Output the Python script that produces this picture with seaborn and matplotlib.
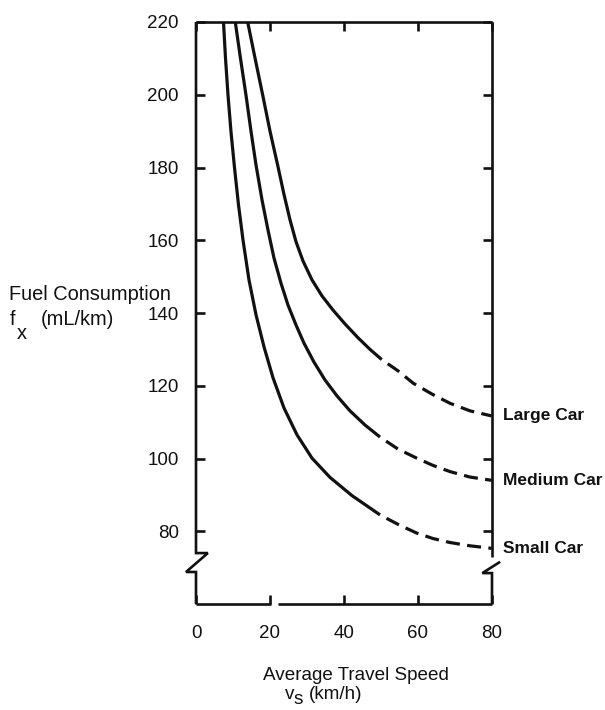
import matplotlib
matplotlib.use("Agg")
import matplotlib.pyplot as plt
import seaborn as sns

# ---------------- data ----------------
speed_small = [7.43, 7.97, 8.65, 9.46, 10.41, 11.49, 12.70, 14.32, 16.22, 18.38,
               20.81, 23.78, 27.30, 31.35, 36.22, 42.16, 49.73]
fuel_small = [220.0, 210.1, 199.9, 189.8, 179.9, 169.7, 160.1, 149.1, 139.5, 130.7,
              122.2, 113.9, 106.5, 100.1, 94.8, 89.8, 84.5]
speed_small_dash = [49.73, 54.59, 59.65, 64.05, 68.65, 74.05, 79.92]
fuel_small_dash = [84.5, 81.9, 79.5, 78.0, 76.9, 76.0, 75.3]

speed_medium = [10.62, 11.89, 13.51, 14.86, 16.22, 17.84, 19.46, 21.08, 22.97, 24.86,
                27.03, 29.19, 31.89, 34.86, 38.11, 41.62, 45.68, 49.73]
fuel_medium = [220.0, 210.9, 199.9, 190.0, 180.7, 171.1, 162.8, 155.1, 148.2, 142.2,
               136.7, 131.7, 126.5, 121.6, 117.2, 113.1, 109.2, 105.9]
speed_medium_dash = [49.73, 54.59, 59.65, 64.05, 68.65, 74.05, 79.92]
fuel_medium_dash = [105.9, 102.6, 100.1, 98.1, 96.4, 94.9, 94.0]

speed_large = [13.97, 15.95, 18.03, 20.0, 22.08, 23.78, 25.41, 27.03, 28.92, 31.35,
               34.05, 37.03, 40.27, 43.78, 47.03, 50.19]
fuel_large = [220.0, 210.1, 199.9, 190.0, 180.6, 172.6, 165.6, 159.6, 154.3, 149.1,
              144.7, 140.8, 137.0, 133.2, 130.0, 127.2]
speed_large_dash = [50.19, 54.6, 58.7, 63.8, 68.6, 74.05, 79.9]
fuel_large_dash = [127.2, 124.1, 120.7, 117.7, 115.2, 113.1, 111.7]

car_labels = ["Large Car", "Medium Car", "Small Car"]
x_ticks = [0, 20, 40, 60, 80]
y_ticks = [80, 100, 120, 140, 160, 180, 200, 220]

# ---------------- style ----------------
sns.set_theme(style="white")
plt.rcParams["font.family"] = ["Liberation Sans", "DejaVu Sans"]
INK = "#111111"

W, H = 605, 710
fig = plt.figure(figsize=(W / 100, H / 100), dpi=100)
ax = fig.add_axes([196 / W, 1 - 604 / H, (492 - 196) / W, (604 - 22) / H])
ax.set_xlim(0, 80)
ax.set_ylim(60, 220)
for s in ax.spines.values():
    s.set_visible(False)

LW = 2.3
solid_sets = [(speed_large, fuel_large), (speed_medium, fuel_medium), (speed_small, fuel_small)]
dash_sets = [(speed_large_dash, fuel_large_dash), (speed_medium_dash, fuel_medium_dash),
             (speed_small_dash, fuel_small_dash)]
for (xs, ys) in solid_sets:
    sns.lineplot(x=xs, y=ys, ax=ax, color=INK, lw=LW, estimator=None, sort=False,
                 solid_capstyle="butt", solid_joinstyle="round")
for (xs, ys) in dash_sets:
    sns.lineplot(x=xs, y=ys, ax=ax, color=INK, lw=LW, estimator=None, sort=False,
                 linestyle=(4.4, (4.4, 2.3)), dash_capstyle="butt", dash_joinstyle="round")

# car labels at the curve ends
for lab, (xs, ys) in zip(car_labels, dash_sets):
    ax.annotate(lab, xy=(xs[-1], ys[-1]), xytext=(8, 0), textcoords="offset points",
                ha="left", va="center", fontsize=12.5, fontweight="bold", color=INK,
                annotation_clip=False)

# ---------------- frame with axis breaks ----------------
FW = 1.9
kw = dict(color=INK, lw=FW, clip_on=False, solid_joinstyle="miter", solid_capstyle="butt")
ax.plot([0, 80], [220, 220], **kw)                       # top
ax.plot([0, 0, 3.2, -2.7, 0, 0], [220, 74.0, 74.0, 68.8, 68.8, 60], **kw)   # left with break
ax.plot([80, 80], [220, 72.9], **kw)                     # right upper
ax.plot([82.2, 77.4, 80, 80], [71.6, 68.5, 68.5, 60], **kw)               # right lower
ax.plot([0, 20.2], [60, 60], **kw)                       # bottom left part
ax.plot([22.2, 80], [60, 60], **kw)                      # bottom right part

ax.set_xticks(x_ticks)
ax.set_yticks(y_ticks)
ax.set_xticklabels([str(v) for v in x_ticks])
ax.set_yticklabels([str(v) for v in y_ticks])
ax.tick_params(axis="both", direction="in", length=6.5, width=FW, color=INK,
               labelsize=13.5, labelcolor=INK)
ax.tick_params(axis="y", left=True, right=True, labelright=False, pad=12.5)
ax.tick_params(axis="x", bottom=True, top=True, labeltop=False, pad=15)
ax.grid(False)

# ---------------- axis titles ----------------
def ftxt(x, y, s, **k):
    fig.text(x / W, 1 - y / H, s, color=INK, **k)

ftxt(9, 300, "Fuel Consumption", fontsize=14.4, ha="left", va="baseline")
ftxt(10, 325, "f", fontsize=14.4, ha="left", va="baseline")
ftxt(17, 339, "x", fontsize=14.4, ha="left", va="baseline")
ftxt(41, 325, "(mL/km)", fontsize=14.4, ha="left", va="baseline")

ftxt(356, 680, "Average Travel Speed", fontsize=13.6, ha="center", va="baseline")
ftxt(285, 699, "v", fontsize=13.6, ha="left", va="baseline")
ftxt(294, 704, "s", fontsize=13.6, ha="left", va="baseline")
ftxt(309, 699, "(km/h)", fontsize=13.6, ha="left", va="baseline")

fig.savefig("out.png", dpi=100)
